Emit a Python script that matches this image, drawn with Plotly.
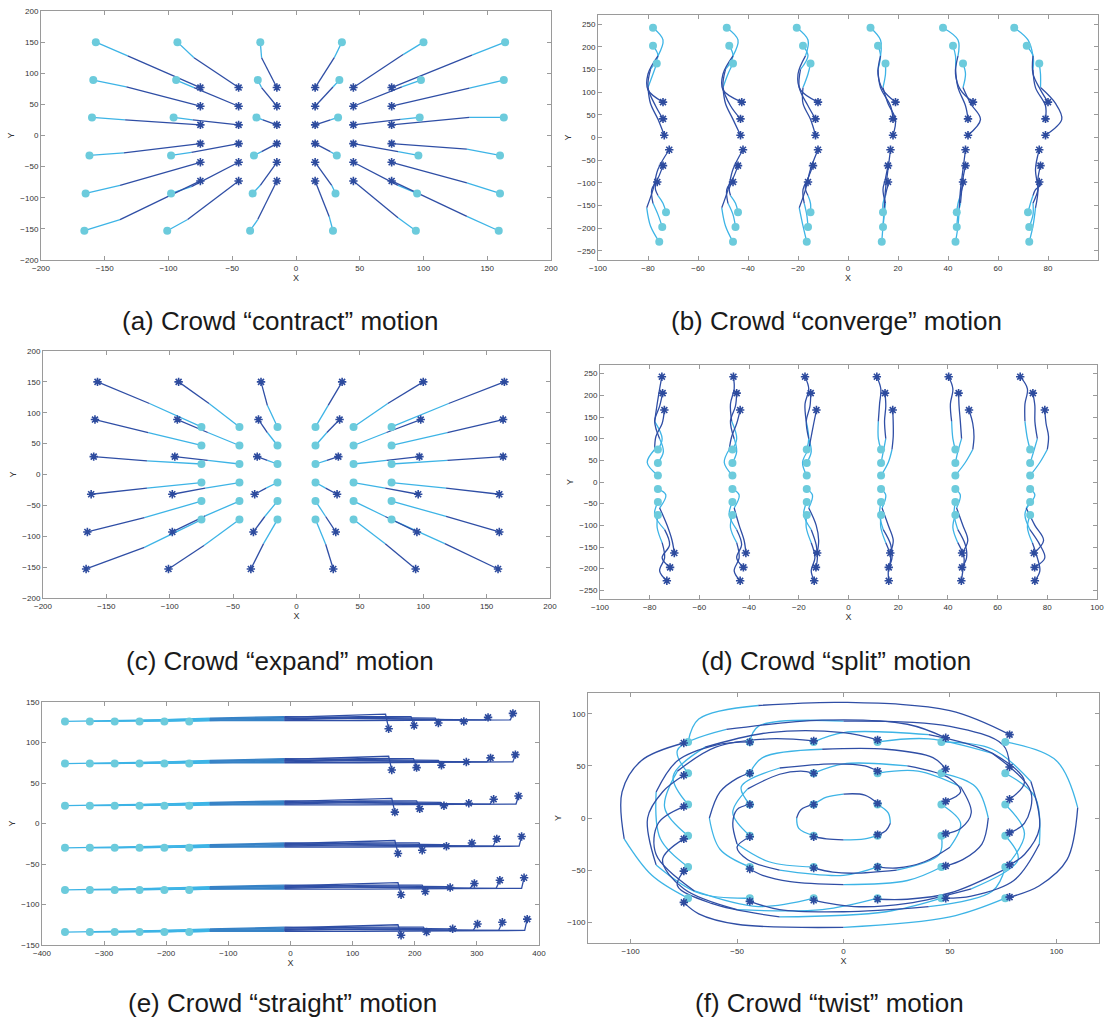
import plotly.graph_objects as go

W, H = 1105, 1020
FONT = "Liberation Sans, Arial, Helvetica, sans-serif"
LIGHT = "#3db4e6"
MEDIUM = "#3682c6"
DARK = "#2f4ea5"
CIRCLE = "#6ccbdc"
STAR = "#2d4b9e"
BORDER = "#9a9a9a"

# ---------------- (a) contract / (c) expand ----------------
OUTER_X = [-157, -159, -160, -162, -165, -166,
           -93, -94, -96, -98, -98, -101,
           -28, -30, -31, -33, -34, -36,
           36, 34, 33, 32, 31, 29,
           100, 98, 97, 96, 95, 94,
           164, 163, 163, 160, 160, 159]
OUTER_Y = [150, 89, 29, -32, -93, -153,
           150, 89, 29, -32, -93, -153,
           150, 89, 29, -32, -93, -153,
           150, 89, 29, -32, -93, -153,
           150, 89, 29, -32, -93, -153,
           150, 89, 29, -32, -93, -153]
INNER_X = [-75, -75, -75, -75, -75, -75,
           -45, -45, -45, -45, -45, -45,
           -15, -15, -15, -15, -15, -15,
           15, 15, 15, 15, 15, 15,
           45, 45, 45, 45, 45, 45,
           75, 75, 75, 75, 75, 75]
INNER_Y = [77, 47, 17, -13, -43, -73,
           77, 47, 17, -13, -43, -73,
           77, 47, 17, -13, -43, -73,
           77, 47, 17, -13, -43, -73,
           77, 47, 17, -13, -43, -73,
           77, 47, 17, -13, -43, -73]
A_MID_X = [-132, -133, -134, -135, -138, -138,
           -80, -80, -81, -82, -82, -85,
           -27, -27, -26, -27, -28, -30,
           30, 29, 27, 27, 28, 26,
           84, 83, 82, 80, 80, 80,
           138, 136, 136, 134, 134, 134]
A_MID_Y = [128, 78, 25, -28, -80, -135,
           125, 77, 25, -27, -82, -135,
           125, 77, 25, -26, -80, -135,
           125, 78, 25, -26, -80, -130,
           130, 78, 26, -26, -80, -132,
           129, 76, 29, -22, -76, -130]
C_MID_X = [-116, -117, -118, -118, -120, -120,
           -69, -70, -70, -72, -72, -73,
           -23, -23, -23, -24, -25, -26,
           25, 24, 24, 23, 23, 23,
           72, 71, 71, 70, 70, 70,
           120, 119, 119, 118, 118, 117]
C_MID_Y = [115, 68, 22, -22, -70, -118,
           115, 68, 23, -22, -67, -115,
           112, 68, 23, -22, -68, -112,
           112, 68, 23, -22, -68, -113,
           115, 68, 23, -22, -68, -112,
           115, 68, 23, -22, -68, -112]

# ---------------- (b) converge ----------------
B_Y0 = [242, 215, 180, 140, 105, 78]
B_Y1 = [202, 180, 150, 110, 70, 41]
B_Y2 = [163, 140, 110, 75, 40, 5]
B_Y3 = [-230, -195, -155, -115, -70, -27]
B_Y4 = [-197, -170, -145, -115, -90, -62]
B_Y5 = [-165, -145, -128, -115, -105, -98]
B_X_C1 = [[-78, -74, -76, -80, -80, -74], [-78, -76, -79, -80, -77, -74],
          [-76.5, -78, -80, -79, -76, -73.5], [-75.5, -79, -80.5, -78, -76, -71.5],
          [-74.3, -76, -78, -78.5, -76, -74], [-72.8, -74, -76, -77, -77, -76.3]]
B_X_C2 = [[-48.5, -44, -46, -50, -50, -42.5], [-47.5, -46, -49, -50, -47, -43],
          [-46, -48, -50, -49, -46, -43], [-46, -49, -50.5, -48, -46, -42],
          [-45, -46, -48, -48.5, -46, -44], [-44, -45, -47, -47.5, -47, -46]]
B_X_C3 = [[-20.5, -16, -17, -20, -19, -12], [-18, -16, -19, -19.5, -16, -13],
          [-15, -16, -18, -18, -15, -13], [-16.5, -18, -19.5, -17, -15, -12],
          [-16, -16.5, -17.5, -18, -16, -14], [-15, -15, -16, -17, -17, -16]]
B_X_C4 = [[9, 13, 13, 12, 14, 19], [12, 13, 12, 13, 17, 18],
          [15, 15, 14, 16, 19, 18], [13.5, 14, 14.5, 15, 16, 17],
          [14, 14.5, 15, 14, 15, 16], [14, 14, 15, 15.5, 16, 16]]
B_X_C5 = [[38, 44, 44, 43, 45, 50], [42, 43, 43, 44, 47, 48],
          [46, 47, 46, 49, 53, 48], [43, 44, 44.5, 45, 46, 47],
          [43.5, 44, 45, 45.5, 46, 47], [43.5, 44, 45, 45.5, 46, 46]]
B_X_C6 = [[66.5, 72, 74, 74, 77, 80], [71.5, 74, 74, 75, 79, 79],
          [76.5, 77, 77, 83, 85.5, 79], [72.5, 74, 75, 76, 75, 76.5],
          [72.5, 74, 74, 76, 76, 77], [72, 73, 74, 75, 77, 76.5]]

# ---------------- (d) split ----------------
D_Y0 = [75, 100, 140, 180, 215, 243]
D_Y1 = [44, 70, 100, 140, 175, 205]
D_Y2 = [15, 45, 75, 105, 135, 166]
D_Y3 = [-16, -30, -60, -100, -135, -164]
D_Y4 = [-46, -75, -110, -145, -175, -197]
D_Y5 = [-76, -105, -140, -175, -205, -228]
D_X_C1 = [[-76.7, -75, -78, -77, -76, -75.1], [-76.7, -74.5, -76, -78, -76, -74.8],
          [-76.7, -81, -78, -77.5, -75, -74.1], [-76.7, -73.5, -76, -73, -71, -70.1],
          [-76.7, -78, -74, -72, -75, -71.8], [-76.7, -77, -75, -74, -76, -73.1]]
D_X_C2 = [[-46.7, -45, -47, -47.5, -46, -46.3], [-46.7, -45, -46, -47.5, -45.5, -45],
          [-46.7, -50, -48, -47, -45, -43.6], [-46.7, -44, -46, -44, -42, -41.3],
          [-46.7, -48, -45, -43, -45, -42.3], [-46.7, -47.5, -45, -44, -46, -43.6]]
D_X_C3 = [[-16.8, -16, -17, -17.5, -16, -17.5], [-16.8, -15, -16, -17, -15.5, -15.2],
          [-16.8, -18.5, -16, -15, -14, -12.9], [-16.8, -14.5, -16, -13, -12, -12.6],
          [-16.8, -18, -15, -13, -12.5, -13.1], [-16.8, -17, -15, -13.5, -15, -13.8]]
D_X_C4 = [[13.1, 12, 12, 12.5, 13, 11.4], [13.1, 14, 15, 14.5, 15, 14.7],
          [13.1, 16, 17.5, 18, 18, 17.8], [13.1, 15, 13.5, 16, 18, 16.8],
          [13.1, 12.5, 14, 17, 17.5, 16.2], [13.1, 13, 15, 17, 16, 16.2]]
D_X_C5 = [[43, 42, 41.5, 41, 42, 40.3], [43, 44, 45.5, 45, 44.5, 44.3],
          [43, 47, 50, 50.5, 50, 48.5], [43, 45, 43.5, 46, 48, 45.7],
          [43, 42.5, 44, 47, 47.5, 45.7], [43, 42, 44, 46.5, 46, 45.4]]
D_X_C6 = [[73.1, 72, 71, 71, 72, 69.1], [73.1, 74.5, 76, 75, 75, 74.2],
          [73.1, 77, 80, 80.5, 79.5, 79], [73.1, 75, 71.5, 75, 78.5, 74.6],
          [73.1, 71, 73, 77, 79, 74.9], [73.1, 72, 74, 76, 77, 75.0]]

# ---------------- (e) straight ----------------
E_START_X = [-363, -323, -283, -243, -203, -163]
E_ROW_Y = [126, 74, 22, -30, -82, -134]
E_END_X = [[158, 199, 238, 279, 318, 358],
           [163, 203, 243, 283, 322, 362],
           [168, 208, 247, 287, 327, 367],
           [173, 212, 251, 292, 332, 372],
           [178, 217, 257, 296, 337, 376],
           [178, 219, 261, 301, 341, 381]]
E_END_Y = [[117, 121, 124, 126, 131, 136],
           [66, 69, 72, 76, 81, 85],
           [14, 18, 22, 25, 30, 34],
           [-37, -33, -28, -24, -19, -16],
           [-88, -84, -79, -74, -70, -67],
           [-138, -134, -130, -124, -122, -118]]
E_FADE_X = -130
E_FADE_DY = [3, 1, 4, 2, 3, 1]
E_MID_X = -10
E_MID_DY = [5, 3, 6, 2, 4, 1]
E_CRUISE_X = 110
E_CRUISE_DY = [8, 6, 5, 4, 3, 1]
E_PRE_DX = [-5, -5, -5, -7, -6, -4]
E_PRE_DY = [9, 6, 4, 2, 2, 2]

# ---------------- (f) twist ----------------
F_OUTER_X = [
    [-73, -68, -40, 0, 50, 78], [-44, -40, 0, 50, 75, 78], [-14, 0, 40, 70, 85, 78],
    [16, 40, 70, 88, 85, 78], [46, 70, 88, 92, 85, 78], [76, 100, 110, 105, 92, 78],
    [76, 90, 92, 80, 60, 48], [76, 85, 75, 50, 30, 16], [76, 82, 60, 30, 5, -14],
    [76, 70, 40, 0, -30, -44], [76, 50, 0, -50, -68, -75], [46, 20, -30, -62, -78, -75],
    [16, -10, -50, -75, -85, -75], [-14, -40, -70, -88, -87, -75], [-44, -68, -88, -92, -85, -75],
    [-73, -90, -103, -104, -95, -75], [-73, -86, -88, -78, -60, -44], [-73, -84, -78, -60, -35, -14],
    [-73, -80, -65, -35, 0, 16], [-73, -78, -55, -10, 30, 48]]
F_OUTER_Y = [
    [73, 95, 108, 111, 103, 80], [73, 88, 93, 88, 70, 49], [73, 82, 80, 62, 35, 18],
    [73, 76, 62, 25, -5, -14], [73, 66, 35, -10, -35, -45], [73, 55, 10, -40, -65, -76],
    [43, 20, -25, -60, -75, -77], [13, -15, -50, -72, -78, -78], [-17, -40, -68, -82, -85, -79],
    [-47, -70, -85, -90, -88, -80], [-77, -95, -105, -102, -92, -81], [-77, -90, -95, -82, -65, -51],
    [-77, -88, -88, -68, -40, -20], [-77, -85, -70, -35, -5, 11], [-77, -72, -45, 0, 25, 41],
    [-77, -55, -20, 25, 55, 72], [-47, -20, 25, 55, 70, 73], [-17, 10, 45, 68, 76, 74],
    [13, 40, 68, 82, 82, 75], [43, 65, 85, 94, 90, 77]]
F_MID_X = [
    [-44, -38, -10, 20, 42, 48], [-14, 0, 30, 50, 55, 48], [16, 35, 55, 60, 55, 48],
    [46, 62, 68, 65, 56, 48], [46, 55, 50, 38, 25, 16], [46, 45, 25, 5, -5, -14],
    [46, 30, 0, -25, -38, -44], [16, 0, -30, -45, -50, -44], [-14, -35, -50, -52, -50, -44],
    [-44, -58, -63, -58, -50, -44], [-44, -52, -45, -30, -20, -14], [-44, -48, -30, -5, 10, 16]]
F_MID_Y = [
    [43, 58, 66, 66, 58, 47], [43, 52, 50, 38, 25, 16], [43, 45, 30, 5, -10, -15],
    [43, 30, 0, -25, -40, -46], [13, -5, -28, -42, -48, -47], [-17, -35, -50, -53, -52, -48],
    [-47, -60, -64, -61, -55, -49], [-47, -55, -50, -40, -28, -18], [-47, -42, -25, -5, 8, 13],
    [-47, -30, 0, 25, 38, 43], [-17, 5, 28, 42, 45, 43], [13, 30, 48, 52, 50, 45]]
F_INNER_X = [[-14, -8, 0, 10, 16], [16, 21, 22, 20, 16], [16, 10, 0, -8, -14], [-14, -21, -22, -20, -14]]
F_INNER_Y = [[13, 20, 23, 22, 14], [13, 5, -5, -12, -16], [-17, -20, -21, -20, -18], [-17, -10, 0, 8, 13]]

CAPTIONS = ["(a) Crowd “contract” motion", "(b) Crowd “converge” motion",
            "(c) Crowd “expand” motion", "(d) Crowd “split” motion",
            "(e) Crowd “straight” motion", "(f) Crowd “twist” motion"]

fig = go.Figure()


def axname(n):
    return ("x", "y") if n == 1 else (f"x{n}", f"y{n}")


def add_paths(n, xs_list, ys_list, splits, colors, shape="spline"):
    """splits: indices where colour changes; colors: one per piece."""
    xa, ya = axname(n)
    pieces = [([], []) for _ in colors]
    for xs, ys in zip(xs_list, ys_list):
        bounds = [0] + list(splits) + [len(xs) - 1]
        for p in range(len(colors)):
            a, b = bounds[p], bounds[p + 1]
            pieces[p][0].extend(list(xs[a:b + 1]) + [None])
            pieces[p][1].extend(list(ys[a:b + 1]) + [None])
    for (X, Y), c in zip(pieces, colors):
        fig.add_trace(go.Scatter(x=X, y=Y, mode="lines", xaxis=xa, yaxis=ya,
                                 line=dict(color=c, width=1.3, shape=shape, smoothing=1.0),
                                 hoverinfo="skip", showlegend=False))


def add_marks(n, sx, sy, ex, ey):
    xa, ya = axname(n)
    fig.add_trace(go.Scatter(x=sx, y=sy, mode="markers", xaxis=xa, yaxis=ya,
                             marker=dict(symbol="circle", size=8, color=CIRCLE),
                             hoverinfo="skip", showlegend=False))
    fig.add_trace(go.Scatter(x=ex, y=ey, mode="markers", xaxis=xa, yaxis=ya,
                             marker=dict(symbol="asterisk-open", size=7, color=STAR,
                                         line=dict(color=STAR, width=1.6)),
                             hoverinfo="skip", showlegend=False))


# (a) contract: outer circle -> inner asterisk
add_paths(1, [[a, b, c] for a, b, c in zip(OUTER_X, A_MID_X, INNER_X)],
          [[a, b, c] for a, b, c in zip(OUTER_Y, A_MID_Y, INNER_Y)], [1], [LIGHT, DARK], "linear")
add_marks(1, OUTER_X, OUTER_Y, INNER_X, INNER_Y)

# (c) expand: inner circle -> outer asterisk
add_paths(3, [[c, b, a] for a, b, c in zip(OUTER_X, C_MID_X, INNER_X)],
          [[c, b, a] for a, b, c in zip(OUTER_Y, C_MID_Y, INNER_Y)], [1], [LIGHT, DARK], "linear")
add_marks(3, INNER_X, INNER_Y, OUTER_X, OUTER_Y)


def columns_panel(n, cols, ystations):
    px, py = [], []
    for col in cols:
        for xs, ys in zip(col, ystations):
            px.append(xs)
            py.append(ys)
    add_paths(n, px, py, [2], [LIGHT, DARK])
    add_marks(n, [p[0] for p in px], [p[0] for p in py],
              [p[-1] for p in px], [p[-1] for p in py])


columns_panel(2, [B_X_C1, B_X_C2, B_X_C3, B_X_C4, B_X_C5, B_X_C6],
              [B_Y0, B_Y1, B_Y2, B_Y3, B_Y4, B_Y5])
columns_panel(4, [D_X_C1, D_X_C2, D_X_C3, D_X_C4, D_X_C5, D_X_C6],
              [D_Y0, D_Y1, D_Y2, D_Y3, D_Y4, D_Y5])

# (e) straight
epx, epy = [], []
for r, ry in enumerate(E_ROW_Y):
    for k, sx in enumerate(E_START_X):
        ex, ey = E_END_X[r][k], E_END_Y[r][k]
        epx.append([sx, E_FADE_X, E_MID_X, E_CRUISE_X, ex + E_PRE_DX[k], ex])
        epy.append([ry, ry + E_FADE_DY[k], ry + E_MID_DY[k], ry + E_CRUISE_DY[k],
                    ry + E_PRE_DY[k], ey])
add_paths(5, epx, epy, [1, 2], [LIGHT, MEDIUM, DARK], "linear")
add_marks(5, [p[0] for p in epx], [p[0] for p in epy], [p[-1] for p in epx], [p[-1] for p in epy])

# (f) twist
fpx = F_OUTER_X + F_MID_X + F_INNER_X
fpy = F_OUTER_Y + F_MID_Y + F_INNER_Y
add_paths(6, fpx, fpy, [2], [LIGHT, DARK])
add_marks(6, [p[0] for p in fpx], [p[0] for p in fpy], [p[-1] for p in fpx], [p[-1] for p in fpy])

# ---------------- layout ----------------
BOXES = {1: (41, 11, 551, 260), 2: (598, 15, 1098, 260), 3: (43, 351, 550, 598),
         4: (600, 365, 1097, 599), 5: (42, 702, 539, 945), 6: (588, 693, 1099, 943)}
RANGES = {1: ([-200, 200], [-200, 200], 50, 50), 2: ([-100, 100], [-270, 270], 20, 50),
          3: ([-200, 200], [-200, 200], 50, 50), 4: ([-100, 100], [-270, 270], 20, 50),
          5: ([-400, 400], [-150, 150], 100, 50), 6: ([-120, 120], [-120, 120], 50, 50)}

layout = dict(width=W, height=H, margin=dict(l=0, r=0, t=0, b=0),
              paper_bgcolor="white", plot_bgcolor="white", showlegend=False,
              font=dict(family=FONT))
for n, (x0, y0, x1, y1) in BOXES.items():
    xr, yr, xd, yd = RANGES[n]
    common = dict(showline=True, linecolor=BORDER, linewidth=1, mirror="ticks",
                  ticks="inside", ticklen=4, tickcolor=BORDER, showgrid=False,
                  zeroline=False, automargin=False,
                  tickfont=dict(size=8, color="#333333", family=FONT))
    xk = "xaxis" if n == 1 else f"xaxis{n}"
    yk = "yaxis" if n == 1 else f"yaxis{n}"
    layout[xk] = dict(domain=[x0 / W, x1 / W], range=xr, dtick=xd, tick0=0,
                      anchor="y" if n == 1 else f"y{n}",
                      title=dict(text="X", font=dict(size=9, color="#333333"), standoff=2),
                      **common)
    layout[yk] = dict(domain=[1 - y1 / H, 1 - y0 / H], range=yr, dtick=yd, tick0=0,
                      anchor="x" if n == 1 else f"x{n}",
                      title=dict(text="Y", font=dict(size=9, color="#333333"), standoff=4),
                      **common)

CAP_POS = [(280, 321), (836, 321), (280, 661), (836, 661), (282, 1003), (829, 1003)]
layout["annotations"] = [dict(text=t, x=cx / W, y=1 - cy / H, xref="paper", yref="paper",
                              xanchor="center", yanchor="middle", showarrow=False,
                              font=dict(size=26, color="#1a1a1a", family=FONT))
                         for t, (cx, cy) in zip(CAPTIONS, CAP_POS)]
fig.update_layout(**layout)
fig.write_html("out.html")
